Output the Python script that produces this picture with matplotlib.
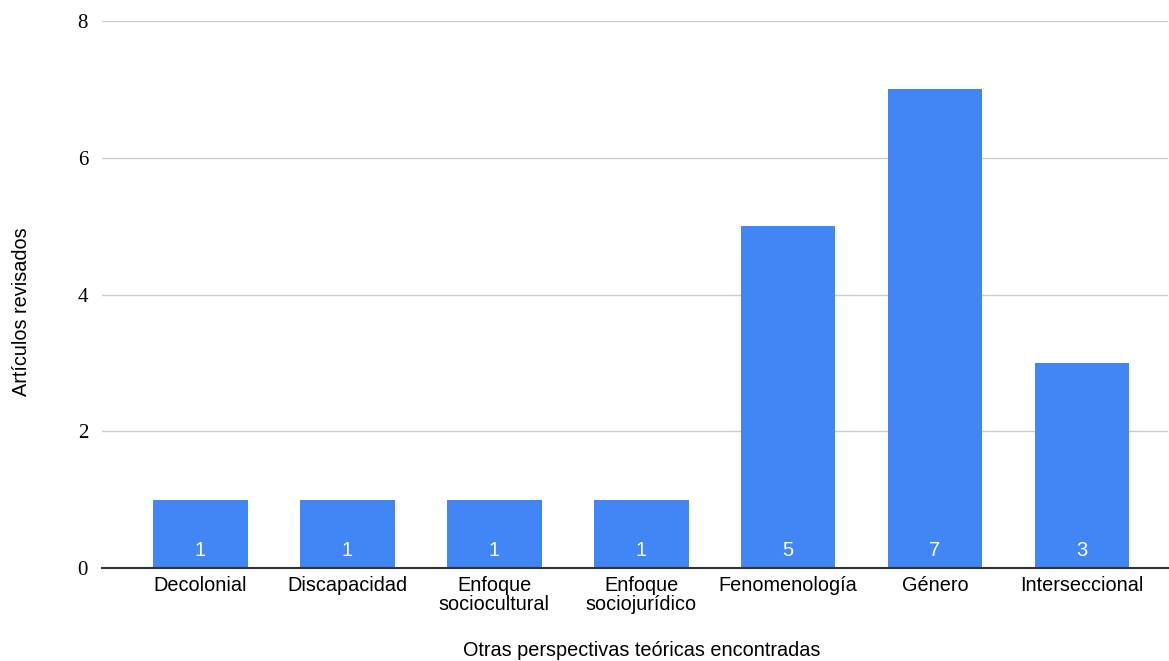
import matplotlib
matplotlib.use("Agg")
import matplotlib.pyplot as plt

categorias = ["Decolonial", "Discapacidad", "Enfoque\nsociocultural", "Enfoque\nsociojurídico",
              "Fenomenología", "Género", "Interseccional"]
articulos = [1, 1, 1, 1, 5, 7, 3]
y_ticks = [0, 2, 4, 6, 8]

plt.rcParams["font.family"] = ["Liberation Sans", "DejaVu Sans"]

fig = plt.figure(figsize=(11.69, 6.61), dpi=100)
ax = fig.add_axes([102 / 1169, 1 - 568 / 661, 1066 / 1169, 547 / 661])

x = list(range(len(categorias)))
bars = ax.bar(x, articulos, width=0.646, color="#4285F4", zorder=3)

for xi, v in zip(x, articulos):
    ax.text(xi, 0.26, str(v), ha="center", va="center", color="white", fontsize=14.5, zorder=4)

ax.set_xlim(-0.667, 6.585)
ax.set_ylim(0, 8)
ax.set_yticks(y_ticks)
ax.set_yticklabels([str(t) for t in y_ticks], family=["Liberation Serif", "DejaVu Serif"], fontsize=15)
ax.set_xticks(x)
ax.set_xticklabels(categorias, fontsize=14.3, linespacing=0.95)

ax.grid(axis="y", color="#cccccc", linewidth=1, zorder=0)
for s in ["top", "right", "left"]:
    ax.spines[s].set_visible(False)
ax.spines["bottom"].set_color("#333333")
ax.spines["bottom"].set_linewidth(1.5)
ax.spines["bottom"].set_zorder(5)
ax.tick_params(axis="both", length=0)
ax.tick_params(axis="x", pad=6)
ax.tick_params(axis="y", pad=10)

fig.text(642 / 1169, 1 - 651 / 661, "Otras perspectivas teóricas encontradas", fontsize=14.3,
         ha="center", va="center")
fig.text(22 / 1169, 1 - 312 / 661, "Artículos revisados", fontsize=14.3, rotation=90,
         ha="center", va="center")

fig.savefig("out.png", dpi=100)
